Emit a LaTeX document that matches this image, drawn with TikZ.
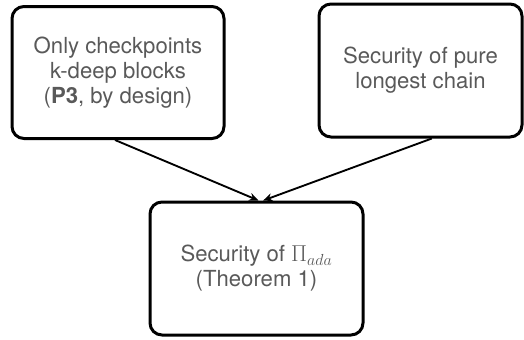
\documentclass[tikz,border=0pt]{standalone}
\usepackage{fontspec}
\setmainfont{TeX Gyre Heros}
\usetikzlibrary{arrows.meta}
\definecolor{textgrey}{RGB}{89,89,89}

\tikzset{every picture/.style={line width=0.75pt}}
\tikzset{claim/.style={draw, line width=2.25pt, rounded corners=9pt, align=center, text=textgrey, inner sep=0.75pt, font=\fontsize{16.6}{18.75}\selectfont}}
\tikzset{implies/.style={-{Stealth[length=7pt,width=6pt]}, line width=1.4pt}}

\begin{document}
\begin{tikzpicture}[x=0.75pt,y=0.75pt,yscale=-1,xscale=1]
\useasboundingbox (0,0) rectangle (524,339);

%Rounded Rect
\node (only) [claim, minimum width=159pt, minimum height=99pt] at (118,72.5) {Only checkpoints\\k-deep blocks\\(\textbf{P3}, by design)};
%Rounded Rect
\node (pure) [claim, minimum width=152.25pt, minimum height=99.75pt] at (420.5,70.5) {Security of pure\\longest chain};
%Rounded Rect
\node (ada) [claim, minimum width=159.75pt, minimum height=99.75pt] at (256.5,268.5) {Security of $\Pi_{ada}$\\(Theorem 1)};

%Straight Lines
\draw [implies] ([xshift=-2.25pt]only.south) -- ([xshift=1.5pt]ada.north) ;
%Straight Lines
\draw [implies] ([xshift=8.5pt]pure.south) -- ([xshift=5pt]ada.north) ;

\end{tikzpicture}
\end{document}
